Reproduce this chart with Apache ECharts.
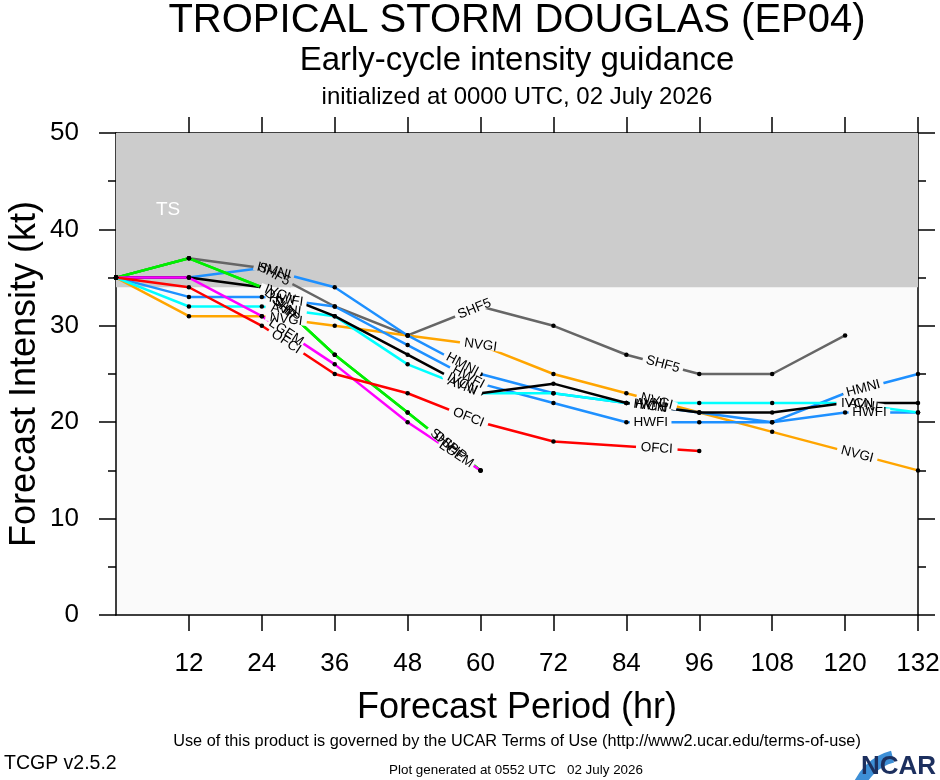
<!DOCTYPE html>
<html>
<head>
<meta charset="utf-8">
<script src="https://cdn.jsdelivr.net/npm/echarts@6/dist/echarts.min.js"></script>
<style>
  html, body { margin: 0; padding: 0; background: #fff; }
  #main { width: 940px; height: 780px; }
</style>
</head>
<body>
<div id="main"></div>
<script>
// forecast hours and intensities (kt), null = no forecast
var hours = [0, 12, 24, 36, 48, 60, 72, 84, 96, 108, 120, 132];
var xTicks = [12, 24, 36, 48, 60, 72, 84, 96, 108, 120, 132];
var shf5 = [35, 37, 36, 32, 29, 32, 30, 27, 25, 25, 29, null];
var nvgi = [35, 31, 31, 30, 29, 28, 25, 23, 21, 19, 17, 15];
var hwfi = [35, 33, 33, 32, 28, 24, 22, 20, 20, 20, 21, 21];
var hmni = [35, 35, 36, 34, 29, 25, 23, 22, 21, 20, 23, 25];
var avni = [35, 32, 32, 31, 26, 23, 23, 22, 22, 22, 22, 21];
var ivcn = [35, 35, 34, 31, 27, 23, 24, 22, 21, 21, 22, 22];
var dshp = [35, 37, 34, 27, 21, 15, null, null, null, null, null, null];
var ship = [35, 37, 34, 27, 21, 15, null, null, null, null, null, null];
var lgem = [35, 35, 31, 26, 20, 15, null, null, null, null, null, null];
var ofci = [35, 34, 30, 25, 23, 20, 18, null, 17, null, null, null];
var tsBottom = 34;
var tsTop = 50;

var plotBg = '#fafafa';
var bandColor = '#cccccc';

// labelAt = hours where the model name sits on its line
var models = [
  { name: 'SHF5', values: shf5, color: '#666666', labelAt: [26, 59, 90] },
  { name: 'NVGI', values: nvgi, color: '#ffa500', labelAt: [28, 60, 89, 122] },
  { name: 'HWFI', values: hwfi, color: '#1e90ff', labelAt: [28, 58, 88, 124] },
  { name: 'HMNI', values: hmni, color: '#1e90ff', labelAt: [26, 57, 88, 123] },
  { name: 'AVNI', values: avni, color: '#00ffff', labelAt: [28, 57, 88, 123] },
  { name: 'IVCN', values: ivcn, color: '#000000', labelAt: [27, 57, 88, 122] },
  { name: 'DSHP', values: dshp, color: '#00ee00', labelAt: [27, 55] },
  { name: 'SHIP', values: ship, color: '#00ee00', labelAt: [28, 54] },
  { name: 'LGEM', values: lgem, color: '#ff00ff', labelAt: [28, 56] },
  { name: 'OFCI', values: ofci, color: '#ff0000', labelAt: [28, 58, 89] }
];

function toPairs(vals) {
  var out = [];
  for (var i = 0; i < vals.length; i++) {
    if (vals[i] != null) out.push([hours[i], vals[i]]);
  }
  return out;
}

function segmentAt(pairs, h) {
  for (var i = 0; i < pairs.length - 1; i++) {
    if (h >= pairs[i][0] && h <= pairs[i + 1][0]) return [pairs[i], pairs[i + 1]];
  }
  return [pairs[pairs.length - 2], pairs[pairs.length - 1]];
}

function interpValue(pairs, h) {
  var s = segmentAt(pairs, h);
  var t = (h - s[0][0]) / (s[1][0] - s[0][0]);
  return s[0][1] + t * (s[1][1] - s[0][1]);
}

function labelGeom(api, pairs, h) {
  var s = segmentAt(pairs, h);
  var a = api.coord(s[0]);
  var b = api.coord(s[1]);
  var t = (h - s[0][0]) / (s[1][0] - s[0][0]);
  return {
    x: a[0] + t * (b[0] - a[0]),
    y: a[1] + t * (b[1] - a[1]),
    rot: -Math.atan2(b[1] - a[1], b[0] - a[0])
  };
}

var series = [];

// gray TS band
series.push({
  type: 'line',
  data: [],
  z: 1,
  silent: true,
  markArea: {
    silent: true,
    itemStyle: { color: bandColor },
    label: {
      show: true,
      position: 'insideLeft',
      distance: 40,
      color: '#ffffff',
      fontSize: 19,
      fontFamily: 'Liberation Sans'
    },
    data: [[{ name: 'TS', xAxis: 0, yAxis: tsBottom }, { xAxis: 132, yAxis: tsTop }]]
  }
});

models.forEach(function (m) {
  var pairs = toPairs(m.values);
  series.push({
    type: 'line',
    name: m.name,
    data: pairs,
    z: 2,
    symbol: 'circle',
    symbolSize: 4.5,
    itemStyle: { color: '#000' },
    lineStyle: { color: m.color, width: 2.5 },
    animation: false,
    silent: true
  });
});

// gaps in the lines under the labels
models.forEach(function (m) {
  var pairs = toPairs(m.values);
  var w = m.name.length * 8.4 + 8;
  series.push({
    type: 'custom',
    z: 3,
    silent: true,
    clip: false,
    animation: false,
    data: m.labelAt.map(function (h) { return [h, interpValue(pairs, h)]; }),
    renderItem: function (params, api) {
      var h = api.value(0);
      var g = labelGeom(api, pairs, h);
      return {
        type: 'rect',
        x: g.x,
        y: g.y,
        rotation: g.rot,
        shape: { x: -w / 2, y: -4, width: w, height: 8 },
        style: { fill: api.value(1) > tsBottom ? bandColor : plotBg }
      };
    }
  });
});

// model names along the lines
models.forEach(function (m) {
  var pairs = toPairs(m.values);
  series.push({
    type: 'custom',
    z: 4,
    silent: true,
    clip: false,
    animation: false,
    data: m.labelAt.map(function (h) { return [h, interpValue(pairs, h)]; }),
    renderItem: function (params, api) {
      var g = labelGeom(api, pairs, api.value(0));
      return {
        type: 'text',
        x: g.x,
        y: g.y,
        rotation: g.rot,
        style: {
          text: m.name,
          fill: '#000',
          font: '13.5px "Liberation Sans"',
          align: 'center',
          verticalAlign: 'middle',
          textAlign: 'center',
          textVerticalAlign: 'middle'
        }
      };
    }
  });
});

var axisColor = '#000';
var option = {
  animation: false,
  backgroundColor: '#ffffff',
  textStyle: { fontFamily: 'Liberation Sans' },
  grid: {
    left: 116, right: 22, top: 133, bottom: 165,
    outerBoundsMode: 'none',
    show: true, backgroundColor: plotBg, borderWidth: 0
  },
  xAxis: [{
    type: 'value',
    position: 'bottom',
    min: 0, max: 132,
    axisLine: { show: true, onZero: false, lineStyle: { color: axisColor, width: 1.5 } },
    axisTick: { show: true, length: 16, customValues: xTicks, lineStyle: { color: axisColor, width: 1.5 } },
    axisLabel: { customValues: xTicks, fontSize: 26, color: '#000', margin: 36, fontFamily: 'Liberation Sans' },
    splitLine: { show: false },
    name: 'Forecast Period (hr)',
    nameLocation: 'middle',
    nameGap: 75,
    nameTextStyle: { fontSize: 36, color: '#000', fontFamily: 'Liberation Sans' }
  }, {
    type: 'value',
    position: 'top',
    min: 0, max: 132,
    axisLine: { show: true, onZero: false, lineStyle: { color: axisColor, width: 1.5 } },
    axisTick: { show: true, length: 16, customValues: xTicks, lineStyle: { color: axisColor, width: 1.5 } },
    axisLabel: { show: false, customValues: xTicks },
    splitLine: { show: false }
  }],
  yAxis: [{
    type: 'value',
    position: 'left',
    min: 0, max: 50, interval: 10,
    axisLine: { show: true, onZero: false, lineStyle: { color: axisColor, width: 1.5 } },
    axisTick: { show: true, length: 17, lineStyle: { color: axisColor, width: 1.5 } },
    minorTick: { show: true, splitNumber: 2, length: 8, lineStyle: { color: axisColor, width: 1.5 } },
    axisLabel: { fontSize: 26, color: '#000', margin: 37, fontFamily: 'Liberation Sans' },
    splitLine: { show: false },
    minorSplitLine: { show: false },
    name: 'Forecast Intensity (kt)',
    nameLocation: 'middle',
    nameGap: 73,
    nameMoveOverlap: false,
    nameTextStyle: { fontSize: 36, color: '#000', fontFamily: 'Liberation Sans' }
  }, {
    type: 'value',
    position: 'right',
    min: 0, max: 50, interval: 10,
    axisLine: { show: true, onZero: false, lineStyle: { color: axisColor, width: 1.5 } },
    axisTick: { show: true, length: 17, lineStyle: { color: axisColor, width: 1.5 } },
    minorTick: { show: true, splitNumber: 2, length: 8, lineStyle: { color: axisColor, width: 1.5 } },
    axisLabel: { show: false },
    splitLine: { show: false },
    minorSplitLine: { show: false }
  }],
  graphic: [
    { type: 'text', x: 517, y: 21, style: { text: 'TROPICAL STORM DOUGLAS (EP04)', font: '40px "Liberation Sans"', fill: '#000', textAlign: 'center', textVerticalAlign: 'middle' } },
    { type: 'text', x: 517, y: 61, style: { text: 'Early-cycle intensity guidance', font: '33px "Liberation Sans"', fill: '#000', textAlign: 'center', textVerticalAlign: 'middle' } },
    { type: 'text', x: 517, y: 97, style: { text: 'initialized at 0000 UTC, 02 July 2026', font: '24px "Liberation Sans"', fill: '#000', textAlign: 'center', textVerticalAlign: 'middle' } },
    { type: 'text', x: 517, y: 742, style: { text: 'Use of this product is governed by the UCAR Terms of Use (http://www2.ucar.edu/terms-of-use)', font: '16.3px "Liberation Sans Narrow", "Liberation Sans"', fill: '#000', textAlign: 'center', textVerticalAlign: 'middle' } },
    { type: 'text', x: 4, y: 764, style: { text: 'TCGP v2.5.2', font: '19.5px "Liberation Sans Narrow", "Liberation Sans"', fill: '#000', textAlign: 'left', textVerticalAlign: 'middle' } },
    { type: 'text', x: 516, y: 770, style: { text: 'Plot generated at 0552 UTC   02 July 2026', font: '13.4px "Liberation Sans Narrow", "Liberation Sans"', fill: '#000', textAlign: 'center', textVerticalAlign: 'middle' } },
    { type: 'sector', shape: { cx: 905, cy: 805, r: 56, r0: 44, startAngle: Math.PI * 1.08, endAngle: Math.PI * 1.42 }, style: { fill: '#3d8fd6' } },
    { type: 'text', x: 936, y: 767, style: { text: 'NCAR', font: 'bold 26px "Liberation Sans Narrow", "Liberation Sans"', fill: '#1c2f5e', textAlign: 'right', textVerticalAlign: 'middle' } }
  ],
  series: series
};

var myChart = echarts.init(document.getElementById('main'));
myChart.setOption(option);
</script>
</body>
</html>
